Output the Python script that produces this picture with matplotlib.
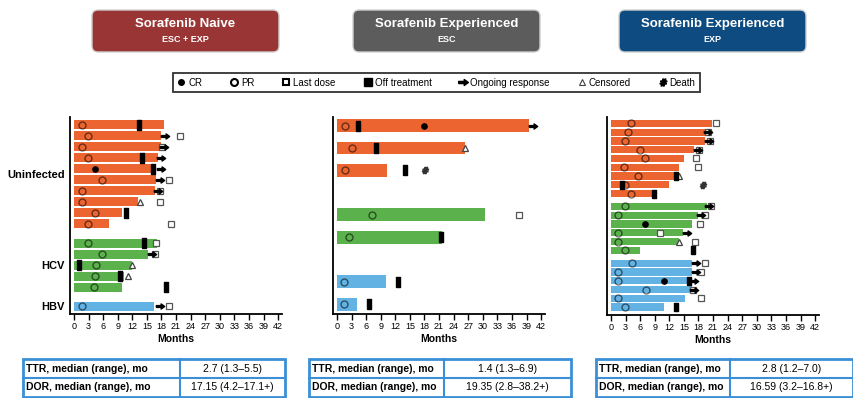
import numpy as np
import matplotlib.pyplot as plt
from matplotlib.lines import Line2D
from matplotlib.patches import FancyBboxPatch, Rectangle

plt.rcParams['font.family'] = ['Liberation Sans', 'DejaVu Sans']

nan = np.nan

# ---- swimmer data, months ----
# Sorafenib naive (ESC + EXP)
naive_group = ['Uninfected'] * 10 + ['HCV'] * 5 + ['HBV']
naive_dur = [18.5, 18.0, 17.9, 17.2, 16.5, 16.8, 16.7, 13.1, 9.9, 7.1,
             17.0, 15.2, 12.0, 10.3, 9.9, 16.5]
naive_pr = [1.6, 2.8, 1.6, 2.9, nan, 5.8, 1.6, 1.6, 4.3, 2.9,
            2.9, 5.8, 4.5, 4.3, 4.2, 1.6]
naive_cr = [nan, nan, nan, nan, 4.3, nan, nan, nan, nan, nan,
            nan, nan, nan, nan, nan, nan]
naive_off = [13.4, nan, nan, 14.0, 16.3, nan, nan, nan, 10.8, nan,
             14.4, nan, 1.1, 9.5, 18.9, nan]
naive_last = [nan, 21.9, 18.2, nan, nan, 19.5, 17.7, 17.6, nan, 19.9,
              16.8, 16.6, nan, nan, nan, 19.5]
naive_ongoing = [nan, 18.7, 18.5, 18.0, 17.8, 17.6, 17.3, nan, nan, nan,
                 nan, 16.0, nan, nan, nan, 17.6]
naive_censored = [nan, nan, nan, nan, nan, nan, nan, 13.5, nan, nan,
                  nan, nan, 12.0, 11.1, nan, nan]
naive_death = [nan] * 16

# Sorafenib experienced (ESC)
esc_group = ['Uninfected'] * 3 + ['HCV'] * 2 + ['HBV'] * 2
esc_dur = [39.5, 26.3, 10.2, 30.5, 21.7, 10.0, 4.2]
esc_pr = [1.6, 3.0, 1.6, 7.1, 2.5, 1.4, 1.4]
esc_cr = [18.0, nan, nan, nan, nan, nan, nan]
esc_off = [4.4, 8.0, 13.9, nan, 21.3, 12.6, 6.6]
esc_last = [nan, nan, nan, 37.4, nan, nan, nan]
esc_ongoing = [40.4, nan, nan, nan, nan, nan, nan]
esc_censored = [nan, 26.4, nan, nan, nan, nan, nan]
esc_death = [nan, nan, 18.2, nan, nan, nan, nan]

# Sorafenib experienced (EXP)
exp_group = ['Uninfected'] * 9 + ['HCV'] * 6 + ['HBV'] * 6
exp_dur = [20.7, 19.5, 19.3, 17.1, 15.0, 14.0, 14.0, 12.0, 8.9,
           19.7, 17.8, 16.7, 14.9, 13.9, 6.0,
           16.6, 16.6, 16.1, 16.6, 15.3, 11.0]
exp_pr = [4.2, 3.4, 2.9, 5.9, 7.0, 2.7, 5.5, 2.9, 4.2,
          2.9, 1.4, nan, 1.5, 1.5, 2.9,
          4.3, 1.4, 1.4, 7.1, 1.4, 2.8]
exp_cr = [nan] * 9 + [nan, nan, 7.0, nan, nan, nan] + [nan, nan, 11.0, nan, nan, nan]
exp_off = [nan, nan, nan, nan, nan, nan, 13.4, 2.3, 8.8,
           nan, nan, nan, nan, nan, 16.9,
           nan, nan, 16.0, nan, nan, 13.4]
exp_last = [21.7, 19.9, 20.3, 18.1, 17.5, 17.8, nan, nan, nan,
            20.6, 19.3, 18.3, 10.1, 17.3, nan,
            19.4, 18.5, nan, 16.9, 18.5, nan]
exp_ongoing = [nan, 20.0, 20.2, 17.8, nan, nan, nan, nan, nan,
               20.2, 18.5, nan, 15.6, nan, nan,
               17.5, 17.4, 17.1, 17.1, nan, nan]
exp_censored = [nan] * 6 + [14.0, nan, nan] + [nan, nan, nan, nan, 13.9, nan] + [nan] * 6
exp_death = [nan] * 7 + [18.9, nan] + [nan] * 12

titles = [('Sorafenib Naive', 'ESC + EXP'),
          ('Sorafenib Experienced', 'ESC'),
          ('Sorafenib Experienced', 'EXP')]
table_rows = ['TTR, median (range), mo', 'DOR, median (range), mo']
table_vals = [['2.7 (1.3\u20135.5)', '17.15 (4.2\u201317.1+)'],
              ['1.4 (1.3\u20136.9)', '19.35 (2.8\u201338.2+)'],
              ['2.8 (1.2\u20137.0)', '16.59 (3.2\u201316.8+)']]
month_ticks = np.arange(0, 43, 3)

group_colors = {'Uninfected': '#EC6430', 'HCV': '#5BB24C', 'HBV': '#62B2E4'}
box_colors = ['#9A3535', '#5C5C5C', '#0D4B80']

W, H = 854, 398
fig = plt.figure(figsize=(W / 100, H / 100), dpi=100)


def px_axes(left, top, right, bottom):
    return fig.add_axes([left / W, 1 - bottom / H, (right - left) / W, (bottom - top) / H])


# overlay for header boxes and tables
over = px_axes(0, 0, W, H)
over.set_xlim(0, W)
over.set_ylim(H, 0)
over.axis('off')

arrow = [(-1, -0.22), (0.15, -0.22), (0.15, -0.62), (1, 0), (0.15, 0.62),
         (0.15, 0.22), (-1, 0.22), (-1, -0.22)]
offrect = [(-0.45, -1), (0.45, -1), (0.45, 1), (-0.45, 1), (-0.45, -1)]

panels = [
    dict(group=naive_group, dur=naive_dur, pr=naive_pr, cr=naive_cr, off=naive_off,
         last=naive_last, ongoing=naive_ongoing, censored=naive_censored, death=naive_death,
         zero=74, top=117, bottom=314, gap=0.75, bh=0.82, ylim=(17.2, -0.7), ms=6.5, labels=True),
    dict(group=esc_group, dur=esc_dur, pr=esc_pr, cr=esc_cr, off=esc_off,
         last=esc_last, ongoing=esc_ongoing, censored=esc_censored, death=esc_death,
         zero=337, top=117, bottom=314, gap=1.0, bh=0.58, ylim=(8.44, -0.39), ms=7.5, labels=False),
    dict(group=exp_group, dur=exp_dur, pr=exp_pr, cr=exp_cr, off=exp_off,
         last=exp_last, ongoing=exp_ongoing, censored=exp_censored, death=exp_death,
         zero=611, top=117, bottom=315, gap=0.45, bh=0.82, ylim=(21.8, -0.72), ms=6.0, labels=False),
]

ppm = 4.86
x0, x1 = -0.8, 42.8
for p in panels:
    left = p['zero'] + x0 * ppm
    right = p['zero'] + x1 * ppm
    ax = px_axes(left, p['top'], right, p['bottom'])

    # row positions with a gap between infection groups
    ypos = []
    y = 0.0
    for i, g in enumerate(p['group']):
        if i > 0:
            y += 1 + (p['gap'] if g != p['group'][i - 1] else 0)
        ypos.append(y)
    ypos = np.array(ypos)
    cols = [group_colors[g] for g in p['group']]

    ax.barh(ypos, p['dur'], height=p['bh'], color=cols, left=0, zorder=2)
    ax.plot(p['last'], ypos, 's', ms=4.3, mfc='white', mec='#555555', mew=0.9, zorder=3)
    ax.plot(p['censored'], ypos, '^', ms=4.5, mfc='white', mec='#444444', mew=0.9, zorder=4)
    ax.plot(p['pr'], ypos, 'o', ms=5, mfc='none', mec=(0, 0, 0, 0.55), mew=1.0, zorder=4)
    ax.plot(p['cr'], ypos, 'o', ms=3.8, color='black', zorder=4)
    ax.plot(p['off'], ypos, marker=offrect, ls='none', ms=p['ms'], color='black', zorder=5)
    ax.plot(p['ongoing'], ypos, marker=arrow, ls='none', ms=6, color='black', zorder=6)
    ax.plot(p['death'], ypos, marker='$\\#$', ls='none', ms=4.5, color='#333333', zorder=6)

    ax.set_xlim(x0, x1)
    ax.set_ylim(*p['ylim'])
    ax.set_xticks(month_ticks)
    ax.tick_params(axis='x', labelsize=6.5, length=4, width=1, pad=2)
    ax.tick_params(axis='y', length=0, labelsize=8, pad=4)
    if p['labels']:
        names = list(dict.fromkeys(p['group']))
        centers = [ypos[np.array(p['group']) == n].mean() for n in names]
        ax.set_yticks(centers)
        ax.set_yticklabels(names, fontweight='bold')
    else:
        ax.set_yticks([])
    ax.set_xlabel('Months', fontsize=7.5, fontweight='bold', labelpad=2)
    for s in ['top', 'right']:
        ax.spines[s].set_visible(False)
    for s in ['left', 'bottom']:
        ax.spines[s].set_linewidth(1.3)

# header boxes
box_x = [92, 353, 619]
for (t1, t2), bx, bc in zip(titles, box_x, box_colors):
    over.add_patch(FancyBboxPatch((bx, 10), 187, 42, boxstyle='round,pad=0,rounding_size=6',
                                  facecolor=bc, edgecolor='#d0d0d0', lw=1))
    over.text(bx + 93.5, 24, t1, color='white', fontsize=9.5, fontweight='bold',
              ha='center', va='center')
    over.text(bx + 93.5, 40, t2, color='white', fontsize=6.5, fontweight='bold',
              ha='center', va='center')

# legend
handles = [
    Line2D([], [], ls='none', marker='o', ms=4, color='black'),
    Line2D([], [], ls='none', marker='o', ms=5, mfc='white', mec='black', mew=1.5),
    Line2D([], [], ls='none', marker='s', ms=5, mfc='white', mec='black', mew=1.5),
    Line2D([], [], ls='none', marker='s', ms=6, color='black'),
    Line2D([], [], ls='none', marker=arrow, ms=7, color='black'),
    Line2D([], [], ls='none', marker='^', ms=5, mfc='white', mec='#444444', mew=0.8),
    Line2D([], [], ls='none', marker='$\\#$', ms=5, color='black'),
]
labels = ['CR', 'PR', 'Last dose', 'Off treatment', 'Ongoing response', 'Censored', 'Death']
leg = fig.legend(handles, labels, loc='center', bbox_to_anchor=(436.5 / W, 1 - 82.5 / H),
                 ncol=7, frameon=True, fancybox=False, edgecolor='black', fontsize=7,
                 handlelength=0.8, handletextpad=0.3, columnspacing=2.9, borderpad=0.45)
leg.get_frame().set_linewidth(1.3)

# summary tables
table_x = [(23, 180, 285), (309, 444, 571), (596, 730, 853)]
tcol = '#3B8FD6'
for (tl, tm, tr), vals in zip(table_x, table_vals):
    tt, rh = 359, 19
    for r, (lab, val) in enumerate(zip(table_rows, vals)):
        yc = tt + rh * r + rh / 2
        over.text(tl + 3, yc, lab, fontsize=7.5, fontweight='bold', ha='left', va='center')
        over.text((tm + tr) / 2, yc, val, fontsize=7.5, ha='center', va='center')
    over.add_patch(Rectangle((tl, tt), tr - tl, 2 * rh, fill=False, edgecolor=tcol, lw=2))
    over.plot([tl, tr], [tt + rh, tt + rh], color=tcol, lw=1.5)
    over.plot([tm, tm], [tt, tt + 2 * rh], color=tcol, lw=1.5)

fig.savefig('out.png', dpi=100)
